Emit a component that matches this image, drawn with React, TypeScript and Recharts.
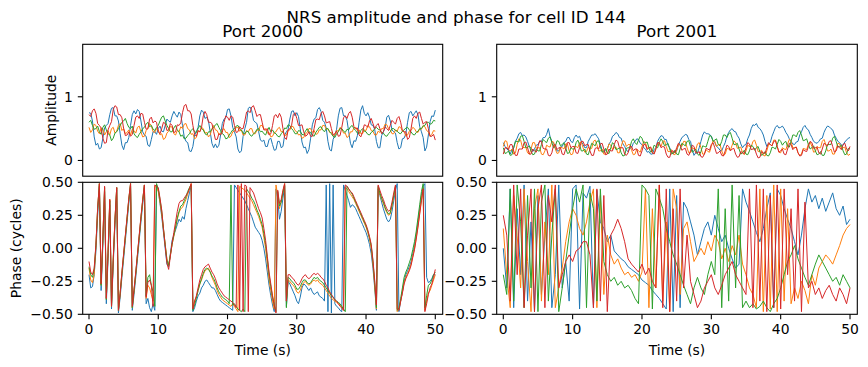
import React from 'react';
import { LineChart, Line, XAxis, YAxis } from 'recharts';

const W = 868;
const H = 367;
const FONT = '"DejaVu Sans", sans-serif';

// time grids (s)
const coarseTimes = [
  0, 0.5, 1, 1.5, 2, 2.5, 3, 3.5, 4, 4.5,
  5, 5.5, 6, 6.5, 7, 7.5, 8, 8.5, 9, 9.5,
  10, 10.5, 11, 11.5, 12, 12.5, 13, 13.5, 14, 14.5,
  15, 15.5, 16, 16.5, 17, 17.5, 18, 18.5, 19, 19.5,
  20, 20.5, 21, 21.5, 22, 22.5, 23, 23.5, 24, 24.5,
  25, 25.5, 26, 26.5, 27, 27.5, 28, 28.5, 29, 29.5,
  30, 30.5, 31, 31.5, 32, 32.5, 33, 33.5, 34, 34.5,
  35, 35.5, 36, 36.5, 37, 37.5, 38, 38.5, 39, 39.5,
  40, 40.5, 41, 41.5, 42, 42.5, 43, 43.5, 44, 44.5,
  45, 45.5, 46, 46.5, 47, 47.5, 48, 48.5, 49, 49.5,
  50,
];

const fineTimes = [
  0, 0.25, 0.5, 0.75, 1, 1.25, 1.5, 1.75,
  2, 2.25, 2.5, 2.75, 3, 3.25, 3.5, 3.75,
  4, 4.25, 4.5, 4.75, 5, 5.25, 5.5, 5.75,
  6, 6.25, 6.5, 6.75, 7, 7.25, 7.5, 7.75,
  8, 8.25, 8.5, 8.75, 9, 9.25, 9.5, 9.75,
  10, 10.25, 10.5, 10.75, 11, 11.25, 11.5, 11.75,
  12, 12.25, 12.5, 12.75, 13, 13.25, 13.5, 13.75,
  14, 14.25, 14.5, 14.75, 15, 15.25, 15.5, 15.75,
  16, 16.25, 16.5, 16.75, 17, 17.25, 17.5, 17.75,
  18, 18.25, 18.5, 18.75, 19, 19.25, 19.5, 19.75,
  20, 20.25, 20.5, 20.75, 21, 21.25, 21.5, 21.75,
  22, 22.25, 22.5, 22.75, 23, 23.25, 23.5, 23.75,
  24, 24.25, 24.5, 24.75, 25, 25.25, 25.5, 25.75,
  26, 26.25, 26.5, 26.75, 27, 27.25, 27.5, 27.75,
  28, 28.25, 28.5, 28.75, 29, 29.25, 29.5, 29.75,
  30, 30.25, 30.5, 30.75, 31, 31.25, 31.5, 31.75,
  32, 32.25, 32.5, 32.75, 33, 33.25, 33.5, 33.75,
  34, 34.25, 34.5, 34.75, 35, 35.25, 35.5, 35.75,
  36, 36.25, 36.5, 36.75, 37, 37.25, 37.5, 37.75,
  38, 38.25, 38.5, 38.75, 39, 39.25, 39.5, 39.75,
  40, 40.25, 40.5, 40.75, 41, 41.25, 41.5, 41.75,
  42, 42.25, 42.5, 42.75, 43, 43.25, 43.5, 43.75,
  44, 44.25, 44.5, 44.75, 45, 45.25, 45.5, 45.75,
  46, 46.25, 46.5, 46.75, 47, 47.25, 47.5, 47.75,
  48, 48.25, 48.5, 48.75, 49, 49.25, 49.5, 49.75,
  50,
];

const xTicks = [0, 10, 20, 30, 40, 50];
const ampTicks = [0, 1];
const phaseTicks = [-0.5, -0.25, 0, 0.25, 0.5];

// ---- Port 2000 amplitude (0.25 s grid)
const amp2000Blue = [
  0.75, 0.74, 0.62, 0.37, 0.24, 0.27, 0.18, 0.2,
  0.35, 0.51, 0.55, 0.58, 0.72, 0.82, 0.83, 0.7,
  0.7, 0.62, 0.42, 0.24, 0.17, 0.28, 0.28, 0.36,
  0.55, 0.72, 0.78, 0.73, 0.8, 0.77, 0.62, 0.45,
  0.4, 0.38, 0.24, 0.22, 0.33, 0.45, 0.45, 0.41,
  0.5, 0.54, 0.46, 0.45, 0.55, 0.65, 0.62, 0.6,
  0.7, 0.77, 0.72, 0.68, 0.76, 0.72, 0.55, 0.37,
  0.3, 0.28, 0.15, 0.14, 0.22, 0.4, 0.45, 0.52,
  0.7, 0.79, 0.76, 0.66, 0.68, 0.62, 0.45, 0.27,
  0.2, 0.26, 0.2, 0.24, 0.4, 0.58, 0.65, 0.67,
  0.8, 0.81, 0.7, 0.52, 0.45, 0.37, 0.18, 0.12,
  0.15, 0.38, 0.5, 0.6, 0.82, 0.84, 0.78, 0.63,
  0.6, 0.58, 0.45, 0.32, 0.3, 0.32, 0.22, 0.22,
  0.33, 0.35, 0.25, 0.16, 0.17, 0.3, 0.3, 0.2,
  0.22, 0.4, 0.45, 0.49, 0.65, 0.77, 0.78, 0.7,
  0.75, 0.69, 0.5, 0.29, 0.2, 0.21, 0.11, 0.17,
  0.35, 0.56, 0.65, 0.67, 0.8, 0.83, 0.77, 0.63,
  0.6, 0.51, 0.3, 0.17, 0.15, 0.33, 0.4, 0.49,
  0.7, 0.82, 0.83, 0.7, 0.7, 0.63, 0.45, 0.27,
  0.2, 0.31, 0.3, 0.39, 0.6, 0.79, 0.86, 0.74,
  0.7, 0.75, 0.68, 0.56, 0.55, 0.49, 0.3, 0.2,
  0.2, 0.39, 0.45, 0.51, 0.68, 0.71, 0.62, 0.48,
  0.45, 0.43, 0.28, 0.18, 0.2, 0.34, 0.35, 0.42,
  0.6, 0.75, 0.77, 0.7, 0.74, 0.78, 0.72, 0.53,
  0.45, 0.36, 0.15, 0.21, 0.4, 0.61, 0.7, 0.69,
  0.79,
];
const amp2000Orange = [
  0.52, 0.44, 0.48, 0.57, 0.55, 0.46, 0.42, 0.51,
  0.5, 0.4, 0.45, 0.47, 0.4, 0.5, 0.52, 0.43,
  0.46, 0.55, 0.58, 0.47, 0.5, 0.42, 0.44, 0.48,
  0.4, 0.49, 0.47, 0.43, 0.52, 0.54, 0.45, 0.37,
  0.38, 0.47, 0.5, 0.58, 0.55, 0.45, 0.44, 0.5,
  0.48, 0.4, 0.42, 0.33, 0.35, 0.43, 0.46, 0.54,
  0.52, 0.42, 0.4, 0.47, 0.45, 0.53, 0.5, 0.57,
  0.58, 0.5, 0.48, 0.41, 0.42, 0.34, 0.36, 0.46,
  0.45, 0.52, 0.5, 0.43, 0.44, 0.37, 0.4, 0.5,
  0.55, 0.48, 0.47, 0.41, 0.42, 0.48, 0.5, 0.44,
  0.44, 0.36, 0.38, 0.45, 0.46, 0.52, 0.52, 0.46,
  0.48, 0.4, 0.4, 0.47, 0.45, 0.5, 0.5, 0.42,
  0.42, 0.48, 0.47, 0.55, 0.55, 0.49, 0.5, 0.43,
  0.44, 0.37, 0.38, 0.44, 0.45, 0.5, 0.52, 0.45,
  0.46, 0.39, 0.4, 0.47, 0.48, 0.54, 0.53, 0.47,
  0.45, 0.4, 0.41, 0.35, 0.36, 0.42, 0.44, 0.5,
  0.5, 0.44, 0.47, 0.41, 0.42, 0.48, 0.48, 0.55,
  0.55, 0.49, 0.5, 0.44, 0.44, 0.38, 0.4, 0.47,
  0.46, 0.52, 0.5, 0.43, 0.43, 0.36, 0.38, 0.45,
  0.45, 0.51, 0.52, 0.47, 0.48, 0.42, 0.42, 0.48,
  0.47, 0.55, 0.53, 0.47, 0.46, 0.4, 0.4, 0.46,
  0.44, 0.5, 0.5, 0.57, 0.56, 0.5, 0.48, 0.42,
  0.42, 0.48, 0.46, 0.53, 0.52, 0.46, 0.45, 0.38,
  0.4, 0.46, 0.47, 0.52, 0.5, 0.45, 0.44, 0.5,
  0.49, 0.55, 0.53, 0.47, 0.45, 0.38, 0.41, 0.47,
  0.46,
];
const amp2000Green = [
  0.6, 0.63, 0.55, 0.49, 0.5, 0.54, 0.45, 0.41,
  0.52, 0.56, 0.48, 0.42, 0.4, 0.31, 0.35, 0.43,
  0.45, 0.5, 0.55, 0.6, 0.62, 0.66, 0.58, 0.52,
  0.5, 0.54, 0.42, 0.38, 0.36, 0.41, 0.45, 0.5,
  0.52, 0.57, 0.6, 0.53, 0.55, 0.49, 0.47, 0.52,
  0.55, 0.62, 0.68, 0.7, 0.62, 0.55, 0.5, 0.45,
  0.45, 0.51, 0.55, 0.48, 0.45, 0.38, 0.4, 0.34,
  0.35, 0.39, 0.42, 0.47, 0.5, 0.45, 0.44, 0.5,
  0.55, 0.5, 0.48, 0.42, 0.4, 0.45, 0.45, 0.49,
  0.52, 0.56, 0.58, 0.52, 0.47, 0.42, 0.4, 0.34,
  0.35, 0.4, 0.44, 0.48, 0.5, 0.54, 0.55, 0.5,
  0.48, 0.43, 0.42, 0.46, 0.45, 0.4, 0.38, 0.42,
  0.44, 0.49, 0.5, 0.45, 0.46, 0.42, 0.4, 0.47,
  0.52, 0.45, 0.48, 0.43, 0.42, 0.38, 0.37, 0.42,
  0.45, 0.51, 0.5, 0.56, 0.55, 0.5, 0.47, 0.42,
  0.42, 0.47, 0.46, 0.41, 0.4, 0.46, 0.5, 0.45,
  0.44, 0.4, 0.38, 0.44, 0.48, 0.52, 0.53, 0.48,
  0.45, 0.5, 0.5, 0.45, 0.42, 0.38, 0.36, 0.42,
  0.45, 0.5, 0.5, 0.46, 0.44, 0.49, 0.48, 0.53,
  0.55, 0.5, 0.47, 0.43, 0.42, 0.47, 0.5, 0.46,
  0.45, 0.41, 0.4, 0.44, 0.46, 0.5, 0.52, 0.49,
  0.48, 0.44, 0.43, 0.39, 0.38, 0.42, 0.45, 0.5,
  0.5, 0.47, 0.46, 0.43, 0.42, 0.46, 0.48, 0.51,
  0.52, 0.48, 0.45, 0.41, 0.4, 0.44, 0.46, 0.5,
  0.5, 0.54, 0.55, 0.6, 0.6, 0.57, 0.58, 0.63,
  0.62,
];
const amp2000Red = [
  0.72, 0.69, 0.78, 0.81, 0.74, 0.58, 0.55, 0.51,
  0.35, 0.27, 0.28, 0.48, 0.55, 0.61, 0.8, 0.86,
  0.84, 0.72, 0.72, 0.67, 0.5, 0.39, 0.4, 0.45,
  0.38, 0.41, 0.55, 0.68, 0.7, 0.66, 0.74, 0.73,
  0.6, 0.49, 0.5, 0.65, 0.68, 0.59, 0.62, 0.6,
  0.45, 0.42, 0.5, 0.6, 0.58, 0.47, 0.48, 0.58,
  0.55, 0.44, 0.45, 0.56, 0.55, 0.59, 0.75, 0.86,
  0.88, 0.78, 0.78, 0.73, 0.55, 0.41, 0.38, 0.47,
  0.45, 0.52, 0.7, 0.77, 0.72, 0.6, 0.6, 0.58,
  0.45, 0.33, 0.33, 0.42, 0.4, 0.44, 0.6, 0.7,
  0.68, 0.63, 0.7, 0.68, 0.55, 0.44, 0.45, 0.53,
  0.5, 0.5, 0.62, 0.76, 0.78, 0.75, 0.84, 0.86,
  0.78, 0.69, 0.72, 0.72, 0.6, 0.48, 0.48, 0.5,
  0.4, 0.42, 0.55, 0.7, 0.72, 0.67, 0.74, 0.68,
  0.5, 0.36, 0.33, 0.48, 0.5, 0.55, 0.72, 0.75,
  0.66, 0.55, 0.55, 0.56, 0.45, 0.38, 0.4, 0.45,
  0.38, 0.38, 0.5, 0.64, 0.65, 0.64, 0.74, 0.77,
  0.7, 0.59, 0.6, 0.61, 0.5, 0.4, 0.42, 0.46,
  0.38, 0.39, 0.52, 0.67, 0.7, 0.66, 0.74, 0.77,
  0.68, 0.53, 0.5, 0.51, 0.4, 0.37, 0.45, 0.56,
  0.55, 0.52, 0.62, 0.66, 0.58, 0.5, 0.55, 0.58,
  0.5, 0.42, 0.45, 0.53, 0.5, 0.47, 0.55, 0.63,
  0.6, 0.57, 0.66, 0.69, 0.6, 0.47, 0.45, 0.45,
  0.33, 0.36, 0.5, 0.66, 0.7, 0.66, 0.74, 0.76,
  0.66, 0.57, 0.6, 0.61, 0.5, 0.38, 0.38, 0.41,
  0.32,
];

// ---- Port 2001 amplitude (0.25 s grid)
const amp2001Blue = [
  0.28, 0.22, 0.18, 0.16, 0.1, 0.17, 0.2, 0.3,
  0.35, 0.42, 0.44, 0.39, 0.4, 0.37, 0.3, 0.22,
  0.2, 0.14, 0.18, 0.24, 0.25, 0.3, 0.3, 0.36,
  0.36, 0.41, 0.5, 0.37, 0.3, 0.27, 0.2, 0.15,
  0.15, 0.21, 0.22, 0.28, 0.3, 0.36, 0.36, 0.3,
  0.28, 0.36, 0.4, 0.36, 0.38, 0.3, 0.25, 0.2,
  0.2, 0.3, 0.35, 0.4, 0.4, 0.42, 0.38, 0.34,
  0.25, 0.16, 0.12, 0.17, 0.18, 0.26, 0.3, 0.38,
  0.4, 0.44, 0.42, 0.36, 0.35, 0.26, 0.22, 0.16,
  0.14, 0.19, 0.2, 0.27, 0.3, 0.34, 0.33, 0.27,
  0.25, 0.2, 0.18, 0.13, 0.14, 0.1, 0.1, 0.17,
  0.2, 0.3, 0.35, 0.39, 0.38, 0.33, 0.33, 0.24,
  0.2, 0.13, 0.1, 0.15, 0.15, 0.24, 0.3, 0.36,
  0.38, 0.41, 0.4, 0.33, 0.3, 0.17, 0.08, 0.12,
  0.12, 0.2, 0.3, 0.4, 0.45, 0.42, 0.42, 0.41,
  0.38, 0.31, 0.28, 0.22, 0.2, 0.16, 0.15, 0.22,
  0.28, 0.38, 0.44, 0.48, 0.5, 0.46, 0.45, 0.39,
  0.35, 0.26, 0.2, 0.24, 0.25, 0.34, 0.4, 0.5,
  0.56, 0.55, 0.58, 0.52, 0.5, 0.46, 0.4, 0.3,
  0.22, 0.26, 0.28, 0.38, 0.45, 0.52, 0.55, 0.51,
  0.52, 0.54, 0.5, 0.44, 0.4, 0.34, 0.3, 0.26,
  0.25, 0.29, 0.3, 0.4, 0.45, 0.52, 0.55, 0.5,
  0.48, 0.41, 0.36, 0.3, 0.28, 0.27, 0.3, 0.34,
  0.35, 0.44, 0.5, 0.54, 0.53, 0.5, 0.48, 0.4,
  0.35, 0.3, 0.28, 0.24, 0.24, 0.29, 0.32, 0.35,
  0.36,
];
const amp2001Orange = [
  0.22, 0.31, 0.3, 0.17, 0.15, 0.18, 0.1, 0.12,
  0.25, 0.34, 0.32, 0.21, 0.2, 0.21, 0.12, 0.1,
  0.18, 0.28, 0.28, 0.19, 0.2, 0.2, 0.1, 0.09,
  0.15, 0.24, 0.22, 0.21, 0.3, 0.29, 0.18, 0.11,
  0.12, 0.21, 0.2, 0.18, 0.26, 0.26, 0.15, 0.09,
  0.1, 0.21, 0.22, 0.2, 0.28, 0.29, 0.2, 0.13,
  0.14, 0.21, 0.18, 0.19, 0.3, 0.32, 0.25, 0.15,
  0.15, 0.18, 0.1, 0.1, 0.18, 0.26, 0.24, 0.17,
  0.2, 0.21, 0.12, 0.12, 0.22, 0.31, 0.3, 0.22,
  0.25, 0.25, 0.16, 0.09, 0.1, 0.18, 0.15, 0.13,
  0.22, 0.3, 0.28, 0.19, 0.2, 0.21, 0.12, 0.11,
  0.18, 0.27, 0.25, 0.22, 0.3, 0.31, 0.22, 0.14,
  0.14, 0.17, 0.1, 0.09, 0.16, 0.25, 0.24, 0.22,
  0.3, 0.3, 0.2, 0.12, 0.12, 0.2, 0.18, 0.17,
  0.26, 0.28, 0.2, 0.1, 0.1, 0.17, 0.14, 0.13,
  0.22, 0.31, 0.3, 0.22, 0.25, 0.25, 0.15, 0.08,
  0.1, 0.19, 0.18, 0.16, 0.24, 0.31, 0.28, 0.19,
  0.2, 0.21, 0.12, 0.09, 0.15, 0.24, 0.22, 0.21,
  0.3, 0.32, 0.24, 0.14, 0.14, 0.16, 0.08, 0.07,
  0.15, 0.25, 0.25, 0.23, 0.32, 0.32, 0.22, 0.13,
  0.12, 0.2, 0.18, 0.17, 0.26, 0.33, 0.3, 0.2,
  0.2, 0.21, 0.12, 0.08, 0.1, 0.19, 0.18, 0.17,
  0.26, 0.29, 0.22, 0.13, 0.14, 0.22, 0.2, 0.2,
  0.3, 0.33, 0.25, 0.15, 0.15, 0.18, 0.1, 0.1,
  0.18, 0.27, 0.26, 0.18, 0.2, 0.21, 0.12, 0.08,
  0.1,
];
const amp2001Green = [
  0.2, 0.11, 0.12, 0.15, 0.08, 0.09, 0.2, 0.3,
  0.3, 0.29, 0.38, 0.39, 0.3, 0.2, 0.2, 0.23,
  0.15, 0.09, 0.1, 0.18, 0.15, 0.15, 0.25, 0.33,
  0.3, 0.28, 0.35, 0.37, 0.28, 0.2, 0.22, 0.31,
  0.3, 0.23, 0.25, 0.28, 0.2, 0.11, 0.12, 0.2,
  0.18, 0.18, 0.28, 0.32, 0.25, 0.15, 0.15, 0.18,
  0.1, 0.09, 0.18, 0.27, 0.25, 0.23, 0.3, 0.31,
  0.22, 0.13, 0.15, 0.19, 0.12, 0.11, 0.2, 0.28,
  0.25, 0.17, 0.18, 0.2, 0.12, 0.07, 0.08, 0.19,
  0.2, 0.2, 0.3, 0.34, 0.28, 0.25, 0.32, 0.38,
  0.35, 0.27, 0.28, 0.29, 0.2, 0.13, 0.15, 0.24,
  0.22, 0.2, 0.28, 0.34, 0.3, 0.23, 0.25, 0.27,
  0.18, 0.1, 0.12, 0.16, 0.1, 0.09, 0.18, 0.27,
  0.25, 0.23, 0.3, 0.31, 0.22, 0.13, 0.15, 0.18,
  0.1, 0.08, 0.14, 0.23, 0.22, 0.21, 0.3, 0.39,
  0.38, 0.3, 0.32, 0.34, 0.25, 0.23, 0.3, 0.4,
  0.4, 0.36, 0.42, 0.44, 0.35, 0.25, 0.25, 0.27,
  0.18, 0.1, 0.12, 0.16, 0.1, 0.09, 0.15, 0.24,
  0.22, 0.16, 0.2, 0.22, 0.14, 0.08, 0.1, 0.14,
  0.08, 0.07, 0.12, 0.21, 0.2, 0.18, 0.25, 0.33,
  0.3, 0.24, 0.28, 0.3, 0.22, 0.21, 0.3, 0.4,
  0.4, 0.37, 0.44, 0.47, 0.4, 0.31, 0.32, 0.34,
  0.25, 0.18, 0.2, 0.23, 0.15, 0.09, 0.1, 0.14,
  0.08, 0.08, 0.15, 0.25, 0.25, 0.25, 0.35, 0.38,
  0.3, 0.21, 0.22, 0.24, 0.15, 0.09, 0.1, 0.19,
  0.18,
];
const amp2001Red = [
  0.1, 0.2, 0.2, 0.17, 0.25, 0.25, 0.15, 0.08,
  0.08, 0.18, 0.18, 0.18, 0.28, 0.29, 0.2, 0.1,
  0.1, 0.18, 0.15, 0.13, 0.22, 0.31, 0.3, 0.19,
  0.18, 0.18, 0.08, 0.07, 0.12, 0.24, 0.25, 0.17,
  0.2, 0.2, 0.1, 0.09, 0.18, 0.28, 0.28, 0.2,
  0.22, 0.22, 0.12, 0.11, 0.2, 0.3, 0.3, 0.23,
  0.25, 0.25, 0.15, 0.08, 0.08, 0.19, 0.2, 0.18,
  0.26, 0.27, 0.18, 0.09, 0.1, 0.18, 0.15, 0.15,
  0.25, 0.32, 0.3, 0.2, 0.2, 0.2, 0.1, 0.08,
  0.12, 0.22, 0.22, 0.15, 0.18, 0.18, 0.08, 0.07,
  0.15, 0.25, 0.25, 0.17, 0.2, 0.21, 0.12, 0.1,
  0.18, 0.28, 0.28, 0.2, 0.22, 0.21, 0.1, 0.05,
  0.05, 0.15, 0.15, 0.12, 0.2, 0.27, 0.25, 0.16,
  0.18, 0.19, 0.1, 0.08, 0.15, 0.24, 0.22, 0.12,
  0.12, 0.14, 0.06, 0.05, 0.1, 0.19, 0.18, 0.16,
  0.25, 0.28, 0.2, 0.11, 0.12, 0.15, 0.08, 0.07,
  0.15, 0.24, 0.22, 0.15, 0.18, 0.19, 0.1, 0.05,
  0.06, 0.14, 0.12, 0.11, 0.2, 0.28, 0.26, 0.17,
  0.18, 0.19, 0.1, 0.04, 0.05, 0.14, 0.12, 0.11,
  0.2, 0.28, 0.25, 0.23, 0.3, 0.31, 0.22, 0.13,
  0.15, 0.18, 0.1, 0.09, 0.18, 0.27, 0.25, 0.17,
  0.2, 0.21, 0.12, 0.07, 0.08, 0.17, 0.15, 0.14,
  0.22, 0.3, 0.28, 0.19, 0.2, 0.21, 0.12, 0.1,
  0.18, 0.27, 0.25, 0.23, 0.3, 0.31, 0.22, 0.13,
  0.15, 0.23, 0.2, 0.17, 0.25, 0.27, 0.18, 0.15,
  0.22,
];

// ---- Port 2000 phase (0.25 s grid, wraps at +-0.5)
const ph2000Blue = [
  -0.2, -0.3, -0.29, -0.2, -0.02, 0.25, 0.47, -0.32,
  0.02, 0.43, -0.42, -0.08, 0.33, -0.46, -0.12, 0.18,
  0.44, -0.49, -0.37, -0.22, -0.08, 0.06, 0.2, 0.34,
  0.47, -0.47, -0.35, -0.22, -0.08, 0.06, 0.2, 0.33,
  0.46, -0.42, -0.38, -0.45, -0.48, -0.42, -0.47, 0.48,
  0.44, 0.34, 0.24, 0.12, 0.0, -0.12, -0.14, -0.04,
  0.06, 0.1, 0.14, 0.18, 0.22, 0.2, 0.24, 0.22,
  0.3, 0.36, 0.42, 0.47, -0.48, -0.45, -0.4, -0.36,
  -0.34, -0.3, -0.28, -0.25, -0.24, -0.26, -0.28, -0.3,
  -0.3, -0.32, -0.35, -0.38, -0.4, -0.41, -0.42, -0.43,
  -0.44, -0.45, -0.46, -0.47, 0.48, 0.46, 0.44, 0.42,
  0.4, 0.38, 0.36, 0.33, 0.3, 0.27, 0.24, 0.2,
  0.16, 0.14, 0.12, 0.1, 0.06, 0.0, -0.08, -0.18,
  -0.28, -0.36, -0.43, -0.48, 0.45, 0.38, 0.22, 0.28,
  0.38, 0.47, -0.44, -0.25, -0.27, -0.3, -0.33, -0.36,
  -0.4, -0.42, -0.37, -0.3, -0.27, -0.28, -0.3, -0.32,
  -0.3, -0.33, -0.35, -0.34, -0.33, -0.36, -0.37, -0.38,
  -0.4, 0.48, -0.48, 0.49, -0.49, 0.48, -0.42, -0.44,
  -0.45, -0.47, -0.48, 0.48, 0.44, 0.4, 0.36, 0.31,
  0.33, 0.32, 0.3, 0.27, 0.24, 0.21, 0.18, 0.15,
  0.12, 0.08, 0.03, -0.04, -0.15, -0.3, -0.47, 0.45,
  0.4, 0.35, 0.3, 0.26, 0.22, 0.2, 0.22, 0.28,
  0.36, 0.44, 0.49, -0.48, -0.4, -0.33, -0.25, -0.2,
  -0.17, -0.14, -0.1, -0.04, 0.02, 0.1, 0.2, 0.3,
  0.4, 0.47, 0.49, -0.22, -0.26, -0.25, -0.23, -0.2,
  -0.2,
];
const ph2000Orange = [
  -0.15, -0.24, -0.26, -0.2, 0.02, 0.3, 0.49, -0.28,
  0.08, 0.46, -0.38, -0.03, 0.37, -0.44, -0.08, 0.22,
  0.46, -0.47, -0.34, -0.19, -0.05, 0.09, 0.23, 0.37,
  0.49, -0.45, -0.32, -0.19, -0.05, 0.09, 0.23, 0.36,
  0.48, -0.38, -0.28, -0.3, -0.35, -0.4, 0.47, 0.46,
  0.43, 0.35, 0.26, 0.14, 0.03, -0.08, -0.13, -0.05,
  0.03, 0.09, 0.16, 0.22, 0.27, 0.3, 0.31, 0.34,
  0.37, 0.41, 0.45, 0.49, -0.45, -0.4, -0.37, -0.32,
  -0.27, -0.24, -0.2, -0.17, -0.16, -0.15, -0.18, -0.22,
  -0.25, -0.28, -0.32, -0.35, -0.37, -0.39, -0.4, -0.41,
  -0.42, -0.43, -0.44, -0.42, -0.44, -0.46, -0.48, 0.47,
  0.46, 0.45, 0.44, 0.42, 0.4, 0.38, 0.36, 0.33,
  0.3, 0.27, 0.24, 0.2, 0.16, 0.08, 0.0, -0.12,
  -0.24, -0.32, -0.4, -0.46, 0.48, 0.4, 0.3, 0.35,
  0.43, 0.49, -0.4, -0.24, -0.25, -0.27, -0.28, -0.3,
  -0.33, -0.34, -0.32, -0.28, -0.26, -0.25, -0.27, -0.28,
  -0.27, -0.25, -0.24, -0.25, -0.24, -0.26, -0.27, -0.28,
  -0.3, -0.32, -0.34, -0.36, -0.38, -0.39, -0.4, -0.41,
  -0.42, -0.43, -0.44, -0.47, 0.46, 0.45, 0.43, 0.41,
  0.39, 0.37, 0.34, 0.31, 0.28, 0.25, 0.22, 0.19,
  0.16, 0.12, 0.07, 0.0, -0.12, -0.28, -0.46, 0.46,
  0.41, 0.37, 0.34, 0.3, 0.27, 0.25, 0.26, 0.32,
  0.39, 0.46, -0.48, -0.46, -0.4, -0.33, -0.26, -0.22,
  -0.19, -0.16, -0.12, -0.06, 0.0, 0.08, 0.17, 0.27,
  0.37, 0.46, -0.47, -0.4, -0.34, -0.32, -0.28, -0.24,
  -0.2,
];
const ph2000Green = [
  -0.14, -0.2, -0.22, -0.16, 0.02, 0.3, 0.49, -0.28,
  0.06, 0.46, -0.39, -0.04, 0.36, -0.44, -0.09, 0.21,
  0.46, -0.47, -0.34, -0.19, -0.05, 0.09, 0.23, 0.37,
  0.49, -0.45, -0.32, -0.19, -0.05, 0.09, 0.23, 0.36,
  0.48, -0.36, -0.22, -0.2, -0.28, -0.33, -0.44, 0.49,
  0.45, 0.37, 0.28, 0.15, 0.03, -0.09, -0.13, -0.05,
  0.03, 0.1, 0.16, 0.23, 0.28, 0.32, 0.33, 0.36,
  0.39, 0.43, 0.46, 0.48, -0.47, -0.43, -0.38, -0.32,
  -0.27, -0.23, -0.19, -0.16, -0.15, -0.16, -0.18, -0.21,
  -0.23, -0.26, -0.3, -0.33, -0.35, -0.37, -0.38, -0.39,
  -0.4, -0.42, 0.48, -0.43, -0.42, -0.44, -0.46, -0.47,
  -0.48, -0.46, -0.48, 0.45, 0.43, 0.41, 0.38, 0.36,
  0.33, 0.29, 0.26, 0.22, 0.18, 0.11, 0.03, -0.08,
  -0.2, -0.29, -0.37, -0.43, -0.48, 0.43, 0.32, 0.35,
  0.42, 0.48, -0.45, -0.22, -0.23, -0.25, -0.26, -0.28,
  -0.31, -0.31, -0.29, -0.26, -0.24, -0.24, -0.26, -0.27,
  -0.26, -0.24, -0.22, -0.23, -0.22, -0.24, -0.25, -0.26,
  -0.28, -0.3, -0.32, -0.34, -0.36, -0.37, -0.39, -0.4,
  -0.41, -0.42, -0.44, -0.46, -0.48, 0.47, 0.45, 0.43,
  0.41, 0.38, 0.35, 0.32, 0.29, 0.26, 0.23, 0.2,
  0.17, 0.13, 0.08, 0.02, -0.1, -0.26, -0.45, 0.47,
  0.42, 0.38, 0.35, 0.31, 0.28, 0.26, 0.27, 0.33,
  0.4, 0.47, -0.47, -0.45, -0.38, -0.3, -0.22, -0.18,
  -0.15, -0.11, -0.07, -0.01, 0.05, 0.13, 0.23, 0.33,
  0.43, 0.49, -0.45, -0.36, -0.28, -0.27, -0.24, -0.2,
  -0.18,
];
const ph2000Red = [
  -0.1, -0.18, -0.2, -0.15, 0.03, 0.31, 0.49, -0.27,
  0.07, 0.47, -0.38, -0.03, 0.37, -0.44, -0.08, 0.22,
  0.46, -0.47, -0.34, -0.18, -0.04, 0.1, 0.24, 0.38,
  0.49, -0.44, -0.31, -0.18, -0.04, 0.1, 0.24, 0.37,
  0.48, -0.37, -0.26, -0.24, -0.28, -0.44, 0.48, 0.47,
  0.46, 0.38, 0.29, 0.15, 0.02, -0.11, -0.16, -0.06,
  0.04, 0.12, 0.2, 0.28, 0.34, 0.36, 0.36, 0.38,
  0.4, 0.42, 0.45, 0.49, -0.46, -0.4, -0.36, -0.3,
  -0.24, -0.2, -0.16, -0.14, -0.13, -0.12, -0.15, -0.18,
  -0.2, -0.23, -0.27, -0.3, -0.32, -0.34, -0.36, -0.37,
  -0.38, -0.39, -0.4, -0.41, -0.43, -0.45, 0.48, -0.47,
  0.49, -0.48, 0.48, 0.47, -0.48, 0.46, 0.44, 0.42,
  0.38, 0.34, 0.3, 0.27, 0.23, 0.15, 0.06, -0.06,
  -0.18, -0.27, -0.36, -0.43, -0.49, 0.44, 0.34, 0.37,
  0.44, 0.49, -0.4, -0.2, -0.2, -0.22, -0.23, -0.25,
  -0.27, -0.28, -0.26, -0.23, -0.21, -0.2, -0.22, -0.23,
  -0.22, -0.2, -0.19, -0.2, -0.19, -0.2, -0.22, -0.23,
  -0.25, -0.28, -0.3, -0.33, -0.35, -0.37, -0.39, -0.4,
  -0.42, -0.44, -0.45, -0.47, 0.48, 0.47, 0.45, 0.43,
  0.42, 0.39, 0.36, 0.33, 0.3, 0.27, 0.24, 0.21,
  0.18, 0.14, 0.09, 0.03, -0.09, -0.24, -0.43, 0.48,
  0.44, 0.4, 0.37, 0.33, 0.3, 0.28, 0.29, 0.35,
  0.42, 0.48, -0.46, -0.47, -0.4, -0.34, -0.27, -0.23,
  -0.2, -0.17, -0.13, -0.07, -0.01, 0.07, 0.16, 0.26,
  0.36, 0.45, -0.48, -0.42, -0.35, -0.3, -0.27, -0.22,
  -0.16,
];

// ---- Port 2001 phase (0.5 s grid)
const ph2001Blue = [
  0.0, -0.3, 0.45, -0.45, 0.3, -0.2, 0.48, -0.4, 0.2, -0.48,
  0.4, -0.35, 0.1, 0.45, -0.45, -0.2, 0.48, -0.3, -0.1, -0.4,
  0.45, 0.48, -0.46, 0.42, 0.38, 0.47, -0.45, 0.44, 0.2, 0.15,
  0.05, 0.1, -0.02, -0.05, -0.08, -0.1, -0.14, -0.16, -0.18, -0.2,
  -0.24, -0.26, -0.28, -0.32, -0.35, -0.38, -0.42, -0.46, 0.45, -0.48,
  0.4, -0.45, 0.35, 0.3, 0.2, 0.1, -0.05, 0.05, 0.15, 0.2,
  0.1, 0.25, 0.15, 0.05, 0.1, 0.0, -0.08, -0.15, -0.12, 0.45,
  0.35, 0.28, 0.2, 0.12, 0.05, 0.15, 0.3, 0.42, -0.45, 0.45,
  0.4, 0.3, 0.22, 0.15, 0.05, -0.05, 0.1, 0.3, 0.45, 0.35,
  0.4, 0.3, 0.38, 0.28, 0.35, 0.42, 0.3, 0.25, 0.32, 0.18,
  0.22,
];
const ph2001Orange = [
  0.15, -0.2, -0.45, 0.4, 0.1, -0.3, 0.45, -0.1, -0.48, 0.3,
  0.45, -0.4, 0.2, -0.2, 0.48, -0.45, -0.3, -0.15, 0.05, 0.2,
  0.3, 0.25, 0.15, 0.1, 0.2, 0.35, 0.45, -0.45, 0.4, -0.35,
  0.1, -0.05, -0.12, -0.08, -0.15, -0.2, -0.18, -0.22, -0.2, -0.25,
  -0.18, 0.45, -0.45, 0.3, -0.3, 0.48, -0.4, 0.2, -0.48, 0.45,
  0.3, -0.35, 0.15, 0.2, 0.05, -0.1, -0.05, 0.0, -0.05, 0.05,
  -0.02, 0.1, 0.05, -0.08, 0.0, -0.1, 0.02, -0.05, 0.1, -0.12,
  -0.2, -0.3, -0.35, -0.45, 0.45, -0.48, 0.4, -0.46, 0.48, -0.48,
  0.45, -0.4, 0.3, -0.42, -0.3, -0.38, -0.25, -0.32, -0.42, -0.2,
  -0.28, -0.15, -0.1, -0.05, -0.08, -0.12, -0.05, 0.02, 0.1, 0.15,
  0.18,
];
const ph2001Green = [
  -0.2, -0.35, 0.45, -0.4, 0.48, 0.2, -0.45, 0.4, -0.3, 0.45,
  -0.48, 0.35, 0.48, -0.4, 0.1, 0.45, -0.48, -0.3, -0.1, 0.1,
  0.3, 0.45, 0.35, 0.48, -0.45, 0.42, 0.3, -0.4, 0.45, -0.1,
  -0.2, -0.25, -0.22, -0.28, -0.25, -0.3, -0.28, -0.32, -0.38, -0.42,
  0.48, 0.45, 0.4, -0.46, 0.45, 0.38, 0.3, 0.15, 0.05, -0.05,
  -0.12, -0.2, -0.28, -0.35, -0.42, -0.3, -0.22, -0.3, -0.35, -0.2,
  -0.1, -0.2, 0.45, -0.45, 0.3, -0.4, 0.48, -0.3, 0.4, -0.45,
  -0.4, -0.45, -0.42, -0.46, -0.44, -0.4, -0.45, -0.48, -0.42, -0.38,
  -0.3, -0.2, -0.1, -0.05, 0.02, -0.08, -0.15, -0.22, -0.28, -0.2,
  -0.12, -0.05, -0.1, -0.15, -0.2, -0.25, -0.22, -0.28, -0.2, -0.25,
  -0.3,
];
const ph2001Red = [
  0.25, 0.1, -0.4, 0.48, -0.2, 0.45, -0.45, 0.1, 0.45, -0.48,
  0.3, 0.48, -0.45, 0.4, 0.2, 0.48, -0.3, -0.2, -0.1, -0.05,
  -0.1, -0.02, 0.0, 0.05, 0.05, -0.05, -0.45, 0.45, -0.4, 0.4,
  -0.48, 0.1, 0.15, 0.22, 0.15, 0.05, -0.08, -0.12, -0.15, -0.18,
  -0.12, -0.2, -0.15, -0.25, -0.3, 0.48, -0.45, 0.45, -0.48, 0.3,
  -0.4, 0.45, -0.3, 0.1, -0.25, -0.35, -0.45, -0.4, -0.3, -0.25,
  -0.2, -0.3, -0.35, -0.28, -0.2, -0.15, -0.1, -0.2, -0.25, -0.3,
  -0.35, 0.45, -0.45, 0.48, -0.4, 0.45, -0.48, 0.4, -0.45, 0.48,
  -0.46, 0.45, -0.2, 0.3, -0.4, 0.45, -0.48, 0.35, -0.3, -0.25,
  -0.35, -0.3, -0.38, -0.32, -0.28, -0.35, -0.4, -0.3, -0.35, -0.42,
  -0.3,
];

const SERIES = [
  { key: 'blue', color: '#1f77b4' },
  { key: 'orange', color: '#ff7f0e' },
  { key: 'green', color: '#2ca02c' },
  { key: 'red', color: '#d62728' },
];

function buildRows(times: number[], blue: number[], orange: number[], green: number[], red: number[]) {
  return times.map((t, i) => ({ t, blue: blue[i], orange: orange[i], green: green[i], red: red[i] }));
}

const fmtAmp = (v: number) => String(v);
const fmtPhase = (v: number) => (v < 0 ? '\u2212' : '') + Math.abs(v).toFixed(2);

const panels = [
  {
    id: 'amp2000',
    data: buildRows(fineTimes, amp2000Blue, amp2000Orange, amp2000Green, amp2000Red),
    box: { x0: 82.7, x1: 442.7, y0: 44.3, y1: 176.2 },
    xDomain: [-0.91, 51.07], yDomain: [-0.247, 1.824], yTicks: ampTicks, fmt: fmtAmp, xLabels: false,
  },
  {
    id: 'amp2001',
    data: buildRows(fineTimes, amp2001Blue, amp2001Orange, amp2001Green, amp2001Red),
    box: { x0: 496.7, x1: 857.3, y0: 44.3, y1: 176.2 },
    xDomain: [-0.95, 51.05], yDomain: [-0.247, 1.824], yTicks: ampTicks, fmt: fmtAmp, xLabels: false,
  },
  {
    id: 'ph2000',
    data: buildRows(fineTimes, ph2000Blue, ph2000Orange, ph2000Green, ph2000Red),
    box: { x0: 82.7, x1: 442.7, y0: 182.3, y1: 314.3 },
    xDomain: [-0.91, 51.07], yDomain: [-0.5, 0.5], yTicks: phaseTicks, fmt: fmtPhase, xLabels: true,
  },
  {
    id: 'ph2001',
    data: buildRows(coarseTimes, ph2001Blue, ph2001Orange, ph2001Green, ph2001Red),
    box: { x0: 496.7, x1: 857.3, y0: 182.3, y1: 314.3 },
    xDomain: [-0.95, 51.05], yDomain: [-0.5, 0.5], yTicks: phaseTicks, fmt: fmtPhase, xLabels: true,
  },
];

const tickText = { fill: '#000', fontSize: 13.9, fontFamily: FONT };
const tickLineStyle = { stroke: '#000', strokeWidth: 1.1 };

function Panel({ p }: { p: typeof panels[number] }) {
  return (
    <div style={{ position: 'absolute', left: 0, top: 0 }}>
      <LineChart
        width={W}
        height={H}
        data={p.data}
        margin={{ top: p.box.y0, left: 0, right: W - p.box.x1, bottom: 0 }}
      >
        <XAxis
          dataKey="t"
          type="number"
          domain={p.xDomain}
          ticks={xTicks}
          interval={0}
          allowDataOverflow
          height={H - p.box.y1}
          axisLine={false}
          tickSize={4.9}
          tickMargin={4.9}
          tickLine={tickLineStyle}
          tick={p.xLabels ? tickText : false}
        />
        <YAxis
          type="number"
          domain={p.yDomain}
          ticks={p.yTicks}
          interval={0}
          allowDataOverflow
          width={p.box.x0}
          axisLine={false}
          tickSize={4.9}
          tickMargin={4.9}
          tickLine={tickLineStyle}
          tick={tickText}
          tickFormatter={p.fmt}
        />
        {SERIES.map((s) => (
          <Line
            key={s.key}
            type="linear"
            dataKey={s.key}
            stroke={s.color}
            strokeWidth={1}
            dot={false}
            activeDot={false}
            isAnimationActive={false}
          />
        ))}
      </LineChart>
    </div>
  );
}

export default function App() {
  return (
    <div style={{ position: 'absolute', left: 0, top: 0, width: W, height: H, background: '#fff', fontFamily: FONT }}>
      {panels.map((p) => (
        <Panel key={p.id} p={p} />
      ))}
      <svg width={W} height={H} style={{ position: 'absolute', left: 0, top: 0, pointerEvents: 'none' }}>
        {panels.map((p) => (
          <rect
            key={p.id}
            x={p.box.x0}
            y={p.box.y0}
            width={p.box.x1 - p.box.x0}
            height={p.box.y1 - p.box.y0}
            fill="none"
            stroke="#000"
            strokeWidth={1.1}
          />
        ))}
        <g fontFamily={FONT} fill="#000">
          <text x={456.2} y={22.5} textAnchor="middle" fontSize={16.7}>NRS amplitude and phase for cell ID 144</text>
          <text x={262.7} y={37.3} textAnchor="middle" fontSize={16.7}>Port 2000</text>
          <text x={677} y={37.3} textAnchor="middle" fontSize={16.7}>Port 2001</text>
          <text transform="translate(55.5,110.2) rotate(-90)" textAnchor="middle" fontSize={13.9}>Amplitude</text>
          <text transform="translate(20.5,248.3) rotate(-90)" textAnchor="middle" fontSize={13.9}>Phase (cycles)</text>
          <text x={262.7} y={355} textAnchor="middle" fontSize={13.9}>Time (s)</text>
          <text x={677} y={355} textAnchor="middle" fontSize={13.9}>Time (s)</text>
        </g>
      </svg>
    </div>
  );
}
